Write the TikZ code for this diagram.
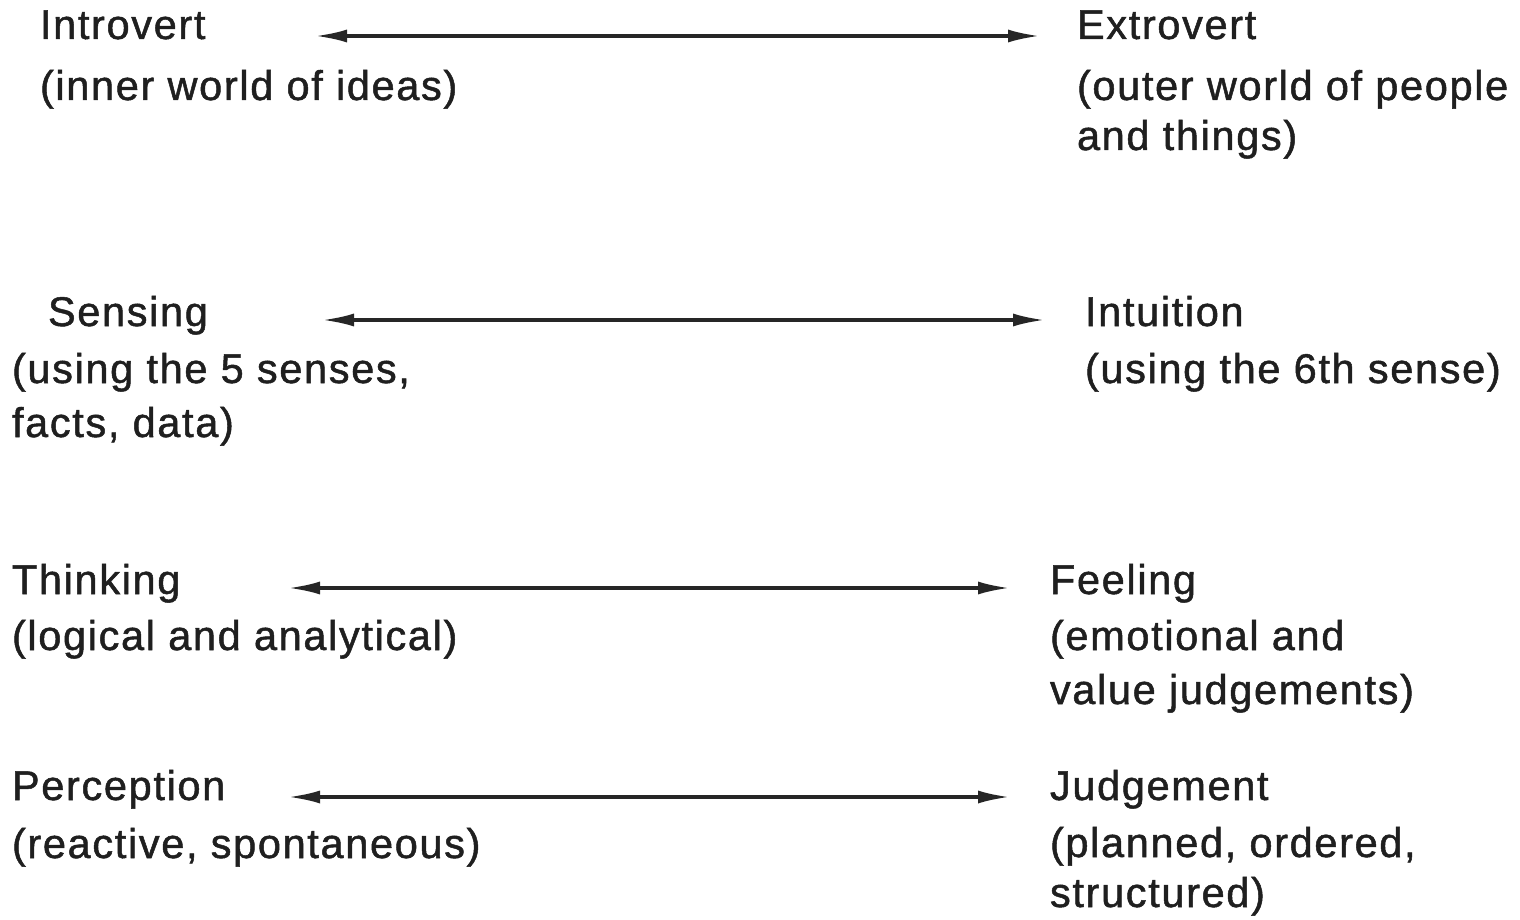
\documentclass[tikz,border=0pt]{standalone}
\usepackage{fontspec}
\setmainfont{Liberation Sans}[LetterSpace=4, FakeBold=1.2]
\usetikzlibrary{arrows.meta}
\tikzset{
  lbl/.style={anchor=base west, inner sep=0pt, outer sep=0pt, font=\fontsize{41.5}{49}\selectfont, text=black!88},
  dimarrow/.style={line width=3.4pt, black!85, {Latex[length=32pt,width=13pt]}-{Latex[length=32pt,width=13pt]}}
}
\begin{document}
\begin{tikzpicture}[x=1pt,y=-1pt]
\useasboundingbox (0,0) rectangle (1520,920);
% row 1
\node[lbl] (intro) at (40,39) {Introvert};
\node[lbl] (introd) at (40,100) {(inner world of ideas)};
\node[lbl] (extro) at (1077,39) {Extrovert};
\node[lbl] (extrod1) at (1077,100) {(outer world of people};
\node[lbl] (extrod2) at (1077,150) {and things)};
\coordinate (a1l) at (315,36);
\coordinate (a1r) at (1040,36);
\draw[dimarrow] (a1l) -- (a1r);
% row 2
\node[lbl] (sens) at (48,326) {Sensing};
\node[lbl] (sensd1) at (12,383) {(using the 5 senses,};
\node[lbl] (sensd2) at (12,437) {facts, data)};
\node[lbl] (intu) at (1085,326) {Intuition};
\node[lbl] (intud) at (1085,383) {(using the 6th sense)};
\coordinate (a2l) at (322,320);
\coordinate (a2r) at (1045,320);
\draw[dimarrow] (a2l) -- (a2r);
% row 3
\node[lbl] (think) at (12,594) {Thinking};
\node[lbl] (thinkd) at (12,650) {(logical and analytical)};
\node[lbl] (feel) at (1050,594) {Feeling};
\node[lbl] (feeld1) at (1050,650) {(emotional and};
\node[lbl] (feeld2) at (1050,704) {value judgements)};
\coordinate (a3l) at (288,588);
\coordinate (a3r) at (1010,588);
\draw[dimarrow] (a3l) -- (a3r);
% row 4
\node[lbl] (perc) at (12,800) {Perception};
\node[lbl] (percd) at (12,858) {(reactive, spontaneous)};
\node[lbl] (judg) at (1050,800) {Judgement};
\node[lbl] (judgd1) at (1050,857) {(planned, ordered,};
\node[lbl] (judgd2) at (1050,907) {structured)};
\coordinate (a4l) at (288,797);
\coordinate (a4r) at (1010,797);
\draw[dimarrow] (a4l) -- (a4r);
\end{tikzpicture}
\end{document}
